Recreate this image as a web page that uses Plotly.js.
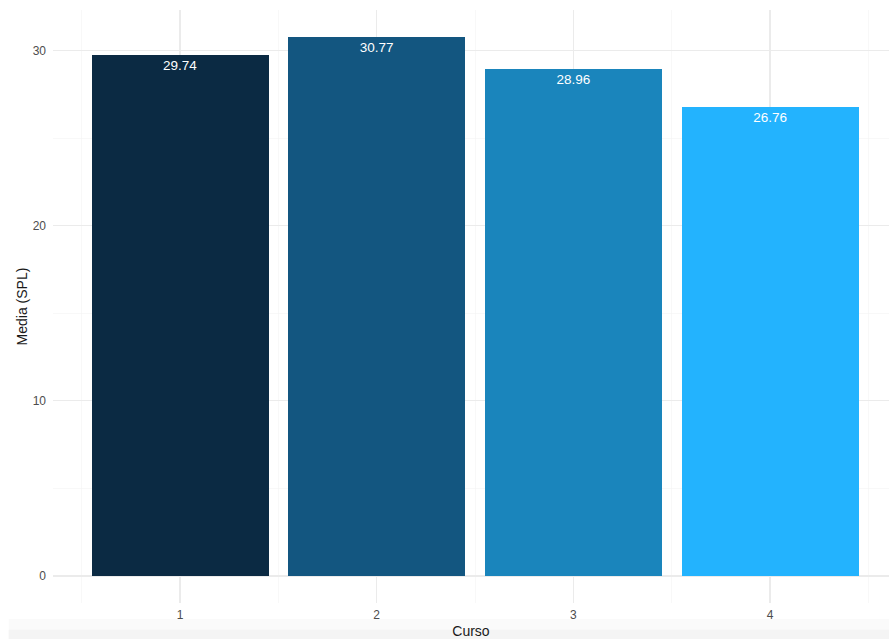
<!DOCTYPE html>
<html>
<head>
<meta charset="utf-8">
<script src="https://cdn.plot.ly/plotly-3.0.1.min.js"></script>
<style>html,body{margin:0;padding:0;background:#fff;}#chart{width:889px;height:639px;}</style>
</head>
<body>
<div id="chart"></div>
<script>
const categories = [1, 2, 3, 4];
const tickLabels = ["1", "2", "3", "4"];
const means = [29.74, 30.77, 28.96, 26.76];
const barColors = ["#0b2a43", "#135680", "#1a85bc", "#23b3fe"];

const trace = {
  type: "bar",
  x: categories,
  y: means,
  width: 0.9,
  marker: {color: barColors, line: {width: 0}},
  text: means.map(v => v.toFixed(2)),
  textposition: "inside",
  insidetextanchor: "end",
  textangle: 0,
  constraintext: "none",
  textfont: {color: "#ffffff", size: 13.5, family: "Liberation Sans, Arial, sans-serif"},
  hoverinfo: "x+y"
};

const layout = {
  width: 889,
  height: 639,
  margin: {l: 53, r: 0, t: 10, b: 36.4, pad: 0},
  paper_bgcolor: "#ffffff",
  plot_bgcolor: "#ffffff",
  font: {family: "Liberation Sans, Arial, sans-serif", color: "#4d4d4d"},
  showlegend: false,
  bargap: 0,
  xaxis: {
    range: [0.354, 4.605],
    tickmode: "array",
    tickvals: categories,
    ticktext: tickLabels,
    ticks: "",
    showline: false,
    zeroline: false,
    showgrid: true,
    gridcolor: "#ebebeb",
    gridwidth: 1.1,
    minor: {tickmode: "array", tickvals: [0.5, 1.5, 2.5, 3.5, 4.5], showgrid: true, gridcolor: "#f3f3f3", gridwidth: 0.6, ticks: ""},
    tickfont: {size: 12, color: "#4d4d4d"},
    ticklabelstandoff: 3,
    title: {text: "Curso", font: {size: 14, color: "#1a1a1a"}, standoff: 5},
    automargin: false,
    fixedrange: true
  },
  yaxis: {
    range: [-1.54, 32.31],
    tickmode: "array",
    tickvals: [0, 10, 20, 30],
    ticktext: ["0", "10", "20", "30"],
    ticks: "",
    showline: false,
    zeroline: false,
    showgrid: true,
    gridcolor: "#ebebeb",
    gridwidth: 1.1,
    minor: {tickmode: "array", tickvals: [5, 15, 25], showgrid: true, gridcolor: "#f3f3f3", gridwidth: 0.6, ticks: ""},
    tickfont: {size: 12, color: "#4d4d4d"},
    ticklabelstandoff: 6,
    title: {text: "Media (SPL)", font: {size: 14, color: "#1a1a1a"}, standoff: 1},
    automargin: false,
    fixedrange: true
  },
  shapes: [
    {type: "rect", xref: "paper", yref: "paper", x0: -0.053, x1: 1.0, y0: -0.0625, y1: -0.027, fillcolor: "#fafafa", line: {width: 0}, layer: "below"},
    {type: "rect", xref: "paper", yref: "paper", x0: -0.053, x1: 1.0, y0: -0.0625, y1: -0.045, fillcolor: "#f4f4f4", line: {width: 0}, layer: "below"}
  ]
};

Plotly.newPlot("chart", [trace], layout, {displayModeBar: false, staticPlot: true});
</script>
</body>
</html>
